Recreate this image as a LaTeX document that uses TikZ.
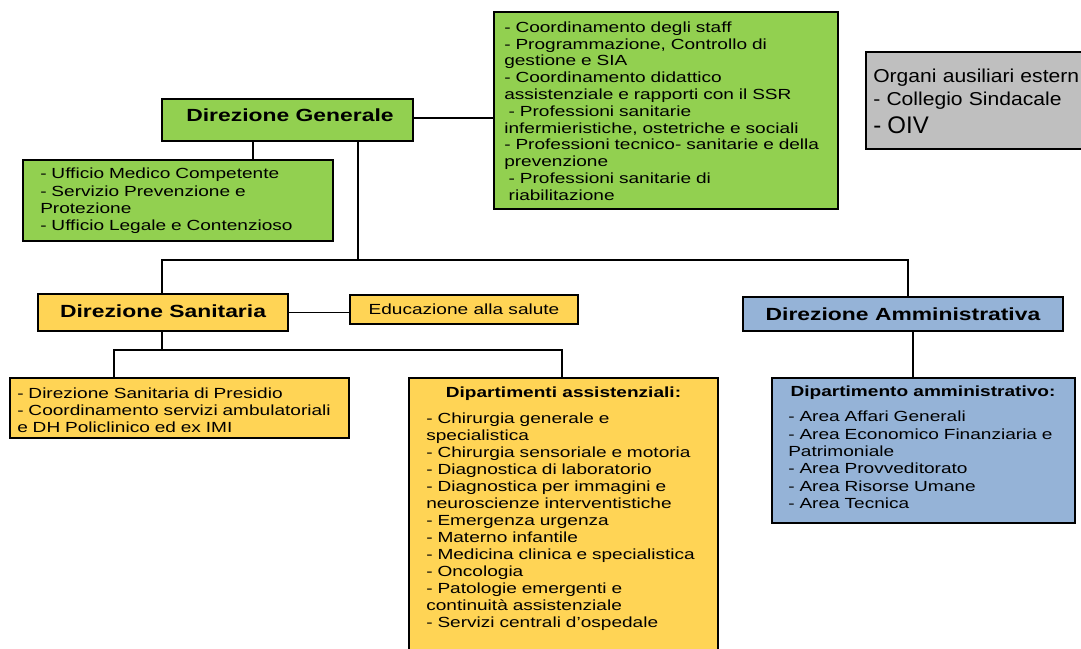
\documentclass[tikz,border=0pt]{standalone}
\usepackage{fontspec}
\setmainfont[FakeStretch=1.3]{Liberation Sans}
\newfontfamily\orgfont[FakeStretch=1.13]{Liberation Sans}
\newfontfamily\oivfont{Liberation Sans}
\usetikzlibrary{fit}
\definecolor{cgreen}{HTML}{92D050}
\definecolor{cyellow}{HTML}{FFD455}
\definecolor{cblue}{HTML}{95B3D7}
\definecolor{cgray}{HTML}{BFBFBF}
\tikzset{
  box/.style={draw=black, line width=1.1pt, inner sep=0pt},
  txt/.style={inner sep=0pt, anchor=base west, align=left, text width=12cm},
  ttl/.style={inner sep=0pt, anchor=base, font=\bfseries\fontsize{13.2}{14}\selectfont},
  sttl/.style={inner sep=0pt, anchor=base, font=\bfseries\fontsize{11}{12}\selectfont},
  ctxt/.style={inner sep=0pt, anchor=base, font=\fontsize{11}{12}\selectfont},
  wire/.style={line width=1.1pt, black},
}
\begin{document}
\begin{tikzpicture}[x=0.75pt,y=-0.75pt]
\useasboundingbox (0,0) rectangle (1081,649);
\clip (0,0) rectangle (1081,649);
\fill[white] (0,0) rectangle (1081,649);

% boxes
\node[box, fill=cgreen, fit={(494,12)(838,209)}] (cg) {};
\node[box, fill=cgray, fit={(866,52)(1095,149)}] (og) {};
\node[box, fill=cgreen, fit={(162,99)(413,141)}] (dg) {};
\node[box, fill=cgreen, fit={(23,160)(333,241)}] (st) {};
\node[box, fill=cyellow, fit={(38,294)(288,331)}] (ds) {};
\node[box, fill=cyellow, fit={(350,295)(578,324)}] (ed) {};
\node[box, fill=cblue, fit={(743,297)(1063,331)}] (da) {};
\node[box, fill=cyellow, fit={(10,378)(349,438)}] (pr) {};
\node[box, fill=cyellow, fit={(409,378)(718,660)}] (dep) {};
\node[box, fill=cblue, fit={(772,378)(1075,523)}] (am) {};

% connectors
\coordinate (j1) at (358,260);
\coordinate (j2) at (908,260);
\coordinate (j3) at (162,350);
\draw[wire] (dg.south -| 253,0) -- (st.north -| 253,0);
\draw[wire] (dg.east |- 0,118) -- (cg.west |- 0,118);
\draw[wire] (dg.south -| j1) -- (j1);
\draw[wire] (ds.north -| 162,0) |- (j2) -- (j2 |- da.north);
\draw[wire] (ds.east) -- (ds.east -| ed.west);
\draw[wire] (ds.south -| j3) -- (j3);
\draw[wire] (pr.north -| 114,0) |- (j3) -| (dep.north -| 562,0);
\draw[wire] (da.south -| 913,0) -- (am.north -| 913,0);

% texts
\node[ttl] (dg-t) at (290,122) {Direzione Generale};
\node[ttl] (ds-t) at (163,317) {Direzione Sanitaria};
\node[ttl] (da-t) at (903,320.5) {Direzione Amministrativa};
\node[ctxt] (ed-t) at (464,314) {Educazione alla salute};

\node[txt, font=\fontsize{11}{12.6}\selectfont] (cg-t) at (504,32.3) {- Coordinamento degli staff\\
- Programmazione, Controllo di\\
gestione e SIA\\
- Coordinamento didattico\\
assistenziale e rapporti con il SSR\\
\hspace*{.3em}- Professioni sanitarie\\
infermieristiche, ostetriche e sociali\\
- Professioni tecnico- sanitarie e della\\
prevenzione\\
\hspace*{.3em}- Professioni sanitarie di\\
\hspace*{.3em}riabilitazione};

\node[txt, font=\orgfont\fontsize{14}{17}\selectfont] (og-t) at (873,83) {Organi ausiliari estern\\
- Collegio Sindacale\\[3.7pt]
{\oivfont\fontsize{18}{18}\selectfont - OIV}};

\node[txt, font=\fontsize{11}{12.9}\selectfont] (st-t) at (40,179) {- Ufficio Medico Competente\\
- Servizio Prevenzione e\\
Protezione\\
- Ufficio Legale e Contenzioso};

\node[txt, font=\fontsize{11}{12.8}\selectfont] (pr-t) at (17,398) {- Direzione Sanitaria di Presidio\\
- Coordinamento servizi ambulatoriali\\
e DH Policlinico ed ex IMI};

\node[sttl] (dep-h) at (563.5,397) {Dipartimenti assistenziali:};
\node[txt, font=\fontsize{11}{12.8}\selectfont] (dep-t) at (426,423) {- Chirurgia generale e\\
specialistica\\
- Chirurgia sensoriale e motoria\\
- Diagnostica di laboratorio\\
- Diagnostica per immagini e\\
neuroscienze interventistiche\\
- Emergenza urgenza\\
- Materno infantile\\
- Medicina clinica e specialistica\\
- Oncologia\\
- Patologie emergenti e\\
continuità assistenziale\\
- Servizi centrali d'ospedale};

\node[sttl] (am-h) at (923,396) {Dipartimento amministrativo:};
\node[txt, font=\fontsize{11}{13}\selectfont] (am-t) at (788,421.7) {- Area Affari Generali\\
- Area Economico Finanziaria e\\
Patrimoniale\\
- Area Provveditorato\\
- Area Risorse Umane\\
- Area Tecnica};
\end{tikzpicture}
\end{document}
